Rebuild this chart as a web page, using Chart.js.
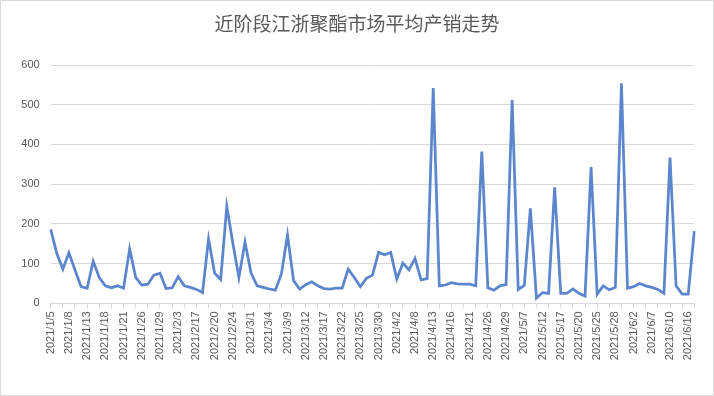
<!DOCTYPE html>
<html lang="zh-CN">
<head>
<meta charset="UTF-8">
<title>近阶段江浙聚酯市场平均产销走势</title>
<script src="https://cdn.jsdelivr.net/npm/chart.js"></script>
<style>
  html, body { margin: 0; padding: 0; background: #fff; }
  .wrap { position: relative; width: 714px; height: 396px; }
  #trend { display: block; }
  .title {
    position: absolute; left: 0; top: 9px; width: 714px;
    text-align: center; line-height: 24px;
    font: 19px "Noto Sans CJK SC", sans-serif; color: #595959;
  }
</style>
</head>
<body>
<div class="wrap">
  <canvas id="trend" width="714" height="396"></canvas>
  <div class="title">近阶段江浙聚酯市场平均产销走势</div>
</div>
<script>
// trading days, one label every third day
const dates = [
  '2021/1/5','2021/1/6','2021/1/7','2021/1/8','2021/1/11','2021/1/12','2021/1/13','2021/1/14','2021/1/15',
  '2021/1/18','2021/1/19','2021/1/20','2021/1/21','2021/1/22','2021/1/25','2021/1/26','2021/1/27','2021/1/28',
  '2021/1/29','2021/2/1','2021/2/2','2021/2/3','2021/2/4','2021/2/5','2021/2/17','2021/2/18','2021/2/19',
  '2021/2/20','2021/2/22','2021/2/23','2021/2/24','2021/2/25','2021/2/26','2021/3/1','2021/3/2','2021/3/3',
  '2021/3/4','2021/3/5','2021/3/8','2021/3/9','2021/3/10','2021/3/11','2021/3/12','2021/3/15','2021/3/16',
  '2021/3/17','2021/3/18','2021/3/19','2021/3/22','2021/3/23','2021/3/24','2021/3/25','2021/3/26','2021/3/29',
  '2021/3/30','2021/3/31','2021/4/1','2021/4/2','2021/4/6','2021/4/7','2021/4/8','2021/4/9','2021/4/12',
  '2021/4/13','2021/4/14','2021/4/15','2021/4/16','2021/4/19','2021/4/20','2021/4/21','2021/4/22','2021/4/23',
  '2021/4/26','2021/4/27','2021/4/28','2021/4/29','2021/4/30','2021/5/6','2021/5/7','2021/5/10','2021/5/11',
  '2021/5/12','2021/5/13','2021/5/14','2021/5/17','2021/5/18','2021/5/19','2021/5/20','2021/5/21','2021/5/24',
  '2021/5/25','2021/5/26','2021/5/27','2021/5/28','2021/5/31','2021/6/1','2021/6/2','2021/6/3','2021/6/4',
  '2021/6/7','2021/6/8','2021/6/9','2021/6/10','2021/6/11','2021/6/15','2021/6/16','2021/6/17'
];

// average sales ratio (%)
const salesRatio = [
  186,126,86,127,84,42,38,106,65,
  44,39,44,38,137,65,46,48,71,
  76,37,39,67,44,40,35,27,162,
  76,60,244,151,65,154,76,44,40,
  36,33,74,172,57,36,47,54,44,
  37,36,38,38,86,65,42,63,71,
  128,122,128,61,101,84,113,59,62,
  542,44,46,52,49,48,48,44,382,
  39,33,44,47,512,35,45,239,13,
  27,25,292,25,25,36,25,18,343,
  23,44,34,40,554,38,42,50,44,
  40,35,25,367,44,23,23,182
];

const yTicks = [0, 100, 200, 300, 400, 500, 600];

const frame = {
  id: 'frame',
  beforeDraw(chart) {
    const c = chart.ctx;
    c.save();
    c.fillStyle = '#fff';
    c.fillRect(0, 0, chart.width, chart.height);
    c.restore();
  },
  afterDraw(chart) {
    const c = chart.ctx;
    c.save();
    c.strokeStyle = '#d9d9d9';
    c.lineWidth = 1;
    c.strokeRect(0.5, 0.5, chart.width - 1, chart.height - 1);
    c.restore();
  }
};

new Chart(document.getElementById('trend'), {
  type: 'line',
  data: {
    labels: dates,
    datasets: [{
      label: '产销',
      data: salesRatio,
      borderColor: '#5b85cc',
      borderWidth: 2.75,
      pointRadius: 0,
      tension: 0,
      fill: false
    }]
  },
  options: {
    responsive: false,
    animation: false,
    layout: { padding: { left: 0, right: 19.7, top: 65, bottom: 0 } },
    plugins: {
      legend: { display: false },
      tooltip: { enabled: false },
      title: { display: false }
    },
    scales: {
      x: {
        offset: false,
        border: { display: true, color: '#d9d9d9', width: 1 },
        grid: {
          drawOnChartArea: false,
          drawTicks: true,
          tickLength: 5,
          color: ctx => ctx.index % 2 === 0 ? '#d9d9d9' : 'rgba(0,0,0,0)'
        },
        ticks: {
          autoSkip: false,
          minRotation: 90,
          maxRotation: 90,
          padding: 3,
          color: '#595959',
          font: { family: '"Liberation Sans", Arial, sans-serif', size: 11 },
          callback: (v, i) => i % 3 === 0 ? dates[i] : ''
        },
        afterFit(scale) { scale.height = 92.7; }
      },
      y: {
        min: 0,
        max: 600,
        border: { display: false },
        grid: { color: '#d9d9d9', lineWidth: 1, drawTicks: false },
        ticks: {
          padding: 11,
          color: '#595959',
          font: { family: '"Liberation Sans", Arial, sans-serif', size: 11 }
        },
        afterBuildTicks(scale) { scale.ticks = yTicks.map(v => ({ value: v })); },
        afterFit(scale) { scale.width = 50.7; }
      }
    }
  },
  plugins: [frame]
});
</script>
</body>
</html>
